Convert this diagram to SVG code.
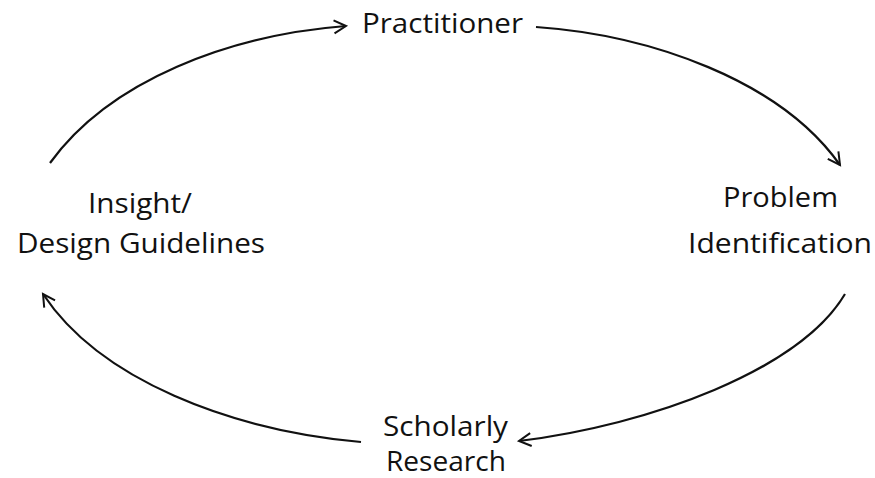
<svg xmlns="http://www.w3.org/2000/svg" width="875" height="478" viewBox="0 0 875 478">
<style>
.lbl{font-family:"Open Sans","Noto Sans","DejaVu Sans",sans-serif;font-size:27px;fill:#111;text-anchor:middle}
.arc{fill:none;stroke:#111;stroke-width:2.2;marker-end:url(#ah)}
</style>
<defs>
<marker id="ah" markerUnits="userSpaceOnUse" markerWidth="20" markerHeight="20" viewBox="-14 -10 16 20" refX="0" refY="0" orient="auto">
<path d="M-12,-6.5 L0,0 L-12,6.5" fill="none" stroke="#111" stroke-width="2"/>
</marker>
</defs>
<rect width="875" height="478" fill="#fff"/>
<g id="connectors">
<path class="arc" d="M50,163 C110,80 230,35 346,26"/>
<path class="arc" d="M536,27 C650,35 780,80 840,165"/>
<path class="arc" d="M845,294 C800,370 650,425 519,441"/>
<path class="arc" d="M361,442 C230,430 100,380 43,294"/>
</g>
<g id="practitioner"><text class="lbl" x="442.5" y="33" textLength="161" lengthAdjust="spacingAndGlyphs">Practitioner</text></g>
<g id="insight">
<text class="lbl" x="140" y="213" textLength="104" lengthAdjust="spacingAndGlyphs">Insight/</text>
<text class="lbl" x="141" y="253" textLength="248" lengthAdjust="spacingAndGlyphs">Design Guidelines</text>
</g>
<g id="problem">
<text class="lbl" x="780.5" y="207" textLength="115" lengthAdjust="spacingAndGlyphs">Problem</text>
<text class="lbl" x="780" y="253" textLength="184" lengthAdjust="spacingAndGlyphs">Identification</text>
</g>
<g id="scholarly">
<text class="lbl" x="445.5" y="436" textLength="125" lengthAdjust="spacingAndGlyphs">Scholarly</text>
<text class="lbl" x="446" y="471" textLength="120" lengthAdjust="spacingAndGlyphs">Research</text>
</g>
</svg>
